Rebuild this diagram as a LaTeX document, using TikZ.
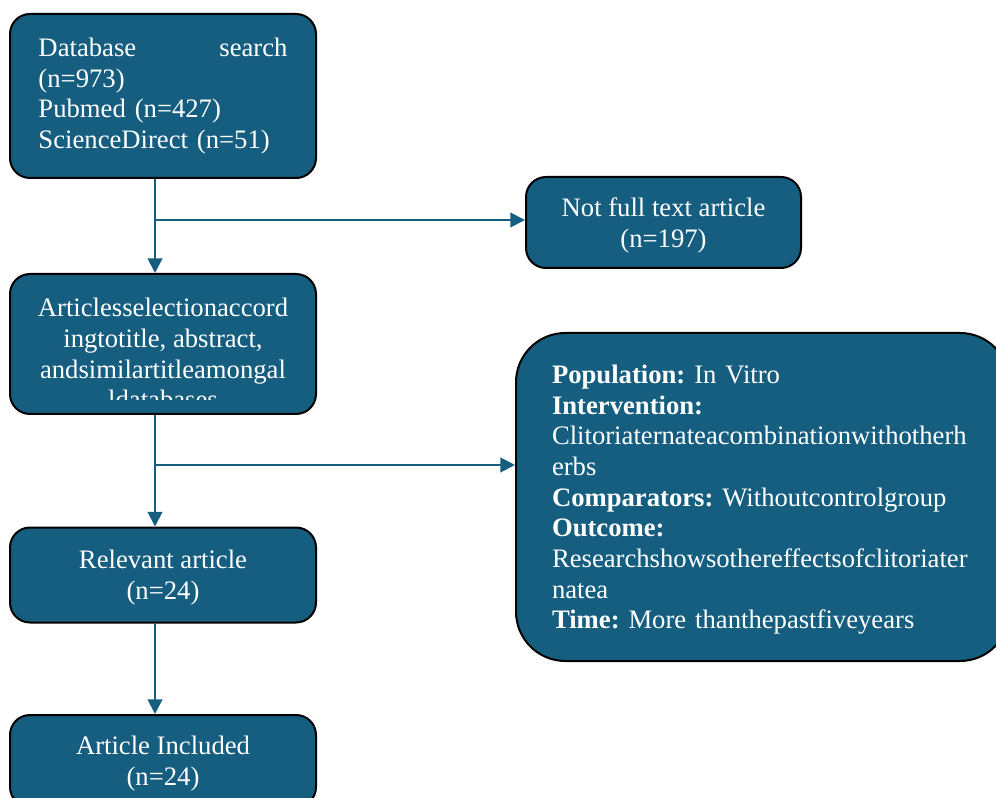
\documentclass[tikz,border=0pt]{standalone}
\usepackage{fontspec}
\setmainfont{Liberation Serif}
\usetikzlibrary{arrows.meta}
\definecolor{flowblue}{RGB}{22,94,128}
\frenchspacing
\begin{document}
\begin{tikzpicture}[x=0.75pt, y=-0.75pt, line join=round,
    flowbox/.style={draw=black, line width=1.5pt, fill=flowblue, text=white,
        rounded corners=15pt, inner sep=0pt,
        font=\fontsize{20}{23}\selectfont},
    centerbox/.style={flowbox, align=center, text depth=-1.5pt},
    flowarrow/.style={draw=flowblue, line width=1.5pt,
        -{Triangle[length=11pt, width=11pt]}}]
    \useasboundingbox (0,0) rectangle (996,798);

    % Define the spine of the flow (x position of the vertical arrows)
    \coordinate (spine) at (155,0);

    % Draw left column of boxes
    \node[flowbox, minimum width=229.5pt, minimum height=123pt,
        text width=186.75pt, align=left] (db) at (163,96)
        {\makebox[\linewidth]{Database\hfill search}\\(n=973)\\Pubmed (n=427)\\ScienceDirect (n=51)};
    \node[flowbox, minimum width=229.5pt, minimum height=105pt] (sel) at (163,344) {};
    \node[centerbox, minimum width=229.5pt, minimum height=71.25pt] (rel) at (163,575)
        {Relevant article\\(n=24)};
    \node[centerbox, minimum width=229.5pt, minimum height=69pt] (inc) at (163,761)
        {Article Included\\(n=24)};

    % Clipped text of the selection box
    \begin{scope}
        \clip (10,274) rectangle (316,400);
        \node[text=white, align=center, inner sep=0pt,
            font=\fontsize{20}{23}\selectfont, anchor=north] (seltext) at (163,298)
            {Articlesselectionaccord\\ingtotitle, abstract,\\andsimilartitleamongal\\ldatabases};
    \end{scope}

    % Draw right column of boxes
    \node[centerbox, minimum width=206.25pt, minimum height=68.25pt] (nft) at (663.5,222.5)
        {Not full text article\\(n=197)};
    \node[flowbox, rounded corners=37pt, minimum width=370pt, minimum height=246pt,
        text width=316pt, align=left, anchor=west, inner xsep=27pt] (pico) at (515,497)
        {\rule{0pt}{18pt}\textbf{Population:} In Vitro\\
         \textbf{Intervention:}\\
         Clitoriaternateacombinationwithotherh\\
         erbs\\
         \textbf{Comparators:} Withoutcontrolgroup\\
         \textbf{Outcome:}\\
         Researchshowsothereffectsofclitoriater\\
         natea\\
         \textbf{Time:} More thanthepastfiveyears};

    % Branch points
    \coordinate (b1) at (155,220);
    \coordinate (b2) at (155,465);

    % Draw vertical arrows
    \draw[flowarrow] (db.south -| spine) -- (sel.north -| spine);
    \draw[flowarrow] (sel.south -| spine) -- (rel.north -| spine);
    \draw[flowarrow] (rel.south -| spine) -- (inc.north -| spine);

    % Draw side arrows
    \draw[flowarrow] (b1) -- (b1 -| nft.west);
    \draw[flowarrow] (b2) -- (b2 -| pico.west);
\end{tikzpicture}
\end{document}
